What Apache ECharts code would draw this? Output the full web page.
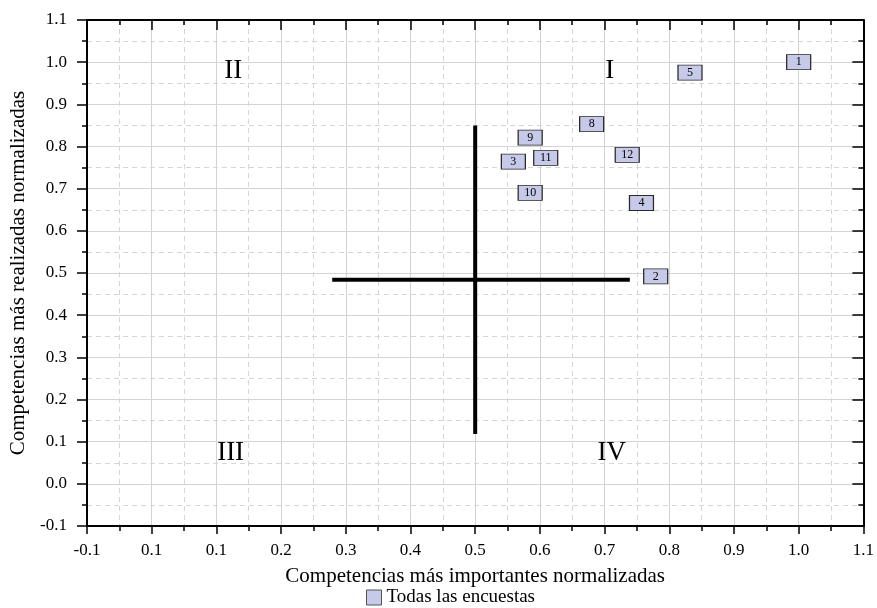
<!DOCTYPE html>
<html>
<head>
<meta charset="utf-8">
<script src="https://cdn.jsdelivr.net/npm/echarts@6/dist/echarts.min.js"></script>
<style>html,body{margin:0;padding:0;background:#fff}#c{width:877px;height:608px}</style>
</head>
<body>
<div id="c"></div>
<script>
// ---- data ----
const pointIds = ['1','2','3','4','5','8','9','10','11','12'];
const pointX   = [1.0, 0.779, 0.559, 0.757, 0.832, 0.680, 0.585, 0.585, 0.609, 0.735];
const pointY   = [1.0, 0.492, 0.764, 0.666, 0.975, 0.853, 0.821, 0.690, 0.773, 0.780];

const hLineX = [0.279, 0.739];
const hLineY = [0.484, 0.484];
const vLineX = [0.5, 0.5];
const vLineY = [0.118, 0.85];

const quadNames = ['I', 'II', 'III', 'IV'];
const quadX = [0.708, 0.126, 0.122, 0.711];
const quadY = [0.980, 0.980, 0.073, 0.073];

const xTickLabels = ['-0.1','0.1','0.1','0.2','0.3','0.4','0.5','0.6','0.7','0.8','0.9','1.0','1.1'];
const xMin = -0.1, xMax = 1.1, yMin = -0.1, yMax = 1.1, step = 0.1;

const seriesName = 'Todas las encuestas';
const xTitle = 'Competencias más importantes normalizadas';
const yTitle = 'Competencias más realizadas normalizadas';

// ---- chart ----
const FONT = 'Liberation Serif';
const chart = echarts.init(document.getElementById('c'), null, {renderer: 'canvas'});

function axisBase(extra) {
  return Object.assign({
    type: 'value',
    axisLine: {show: true, onZero: false, lineStyle: {color: '#000', width: 2}},
    axisTick: {show: true, length: 9, lineStyle: {color: '#000', width: 1.5}},
    minorTick: {show: true, splitNumber: 2, length: 5, lineStyle: {color: '#000', width: 1.5}},
  }, extra);
}

const gridLines = {show: true, lineStyle: {color: '#d3d3d3', width: 1, type: 'solid'}};
const minorGridLines = {show: true, lineStyle: {color: '#d6d6d6', width: 1, type: [5, 4]}};

chart.setOption({
  animation: false,
  textStyle: {fontFamily: FONT, color: '#000'},
  grid: {left: 86, right: 13, top: 20, bottom: 82},
  legend: {
    data: [seriesName],
    bottom: 1,
    left: 366,
    padding: 0,
    itemWidth: 15,
    itemHeight: 15,
    itemGap: 6,
    itemStyle: {color: '#c6c9e8', borderColor: '#555', borderWidth: 1},
    textStyle: {fontFamily: FONT, fontSize: 19, color: '#000'}
  },
  xAxis: [
    axisBase({
      position: 'bottom', min: xMin, max: xMax, interval: step,
      splitLine: gridLines, minorSplitLine: minorGridLines,
      axisTick: {show: true, length: 8, lineStyle: {color: '#000', width: 1.5}},
      axisLabel: {
        fontFamily: FONT, fontSize: 17, color: '#000', margin: 16,
        formatter: v => xTickLabels[Math.round((v - xMin) / step)] ?? ''
      },
      name: xTitle, nameLocation: 'middle', nameGap: 40,
      nameTextStyle: {fontFamily: FONT, fontSize: 21, color: '#000'}
    }),
    axisBase({
      position: 'top', min: xMin, max: xMax, interval: step,
      axisTick: {show: true, inside: true, length: 10, lineStyle: {color: '#000', width: 1.5}},
      splitLine: {show: false}, axisLabel: {show: false}
    })
  ],
  yAxis: [
    axisBase({
      position: 'left', min: yMin, max: yMax, interval: step,
      splitLine: gridLines, minorSplitLine: minorGridLines,
      axisTick: {show: true, length: 10, lineStyle: {color: '#000', width: 1.5}},
      axisLabel: {
        fontFamily: FONT, fontSize: 17, color: '#000', margin: 20,
        formatter: v => v.toFixed(1)
      },
      name: yTitle, nameLocation: 'middle', nameGap: 58, nameRotate: 90,
      nameTextStyle: {fontFamily: FONT, fontSize: 21, color: '#000'}
    }),
    axisBase({
      position: 'right', min: yMin, max: yMax, interval: step,
      axisTick: {show: true, inside: true, length: 11, lineStyle: {color: '#000', width: 1.5}},
      splitLine: {show: false}, axisLabel: {show: false}
    })
  ],
  series: [
    {
      name: 'hline', type: 'line', xAxisIndex: 0, yAxisIndex: 0,
      data: hLineX.map((x, i) => [x, hLineY[i]]),
      showSymbol: false, silent: true, z: 3,
      lineStyle: {color: '#000', width: 4}
    },
    {
      name: 'vline', type: 'line', xAxisIndex: 0, yAxisIndex: 0,
      data: vLineX.map((x, i) => [x, vLineY[i]]),
      showSymbol: false, silent: true, z: 3,
      lineStyle: {color: '#000', width: 4}
    },
    {
      name: 'quadrants', type: 'scatter', xAxisIndex: 0, yAxisIndex: 0,
      data: quadX.map((x, i) => ({value: [x, quadY[i]], name: quadNames[i]})),
      symbolSize: 1, itemStyle: {color: 'rgba(0,0,0,0)', opacity: 1}, silent: true,
      label: {show: true, position: 'inside', formatter: p => p.name,
              fontFamily: FONT, fontSize: 27, color: '#000'}
    },
    {
      name: seriesName, type: 'scatter', xAxisIndex: 0, yAxisIndex: 0,
      data: pointX.map((x, i) => ({value: [x, pointY[i]], name: pointIds[i]})),
      symbol: 'rect', symbolSize: [24, 15], z: 5,
      itemStyle: {color: '#c6c9e8', borderColor: '#2a2a2a', borderWidth: 1, opacity: 1},
      label: {show: true, position: 'inside', formatter: p => p.name,
              fontFamily: FONT, fontSize: 12, color: '#000'}
    }
  ]
});
</script>
</body>
</html>
